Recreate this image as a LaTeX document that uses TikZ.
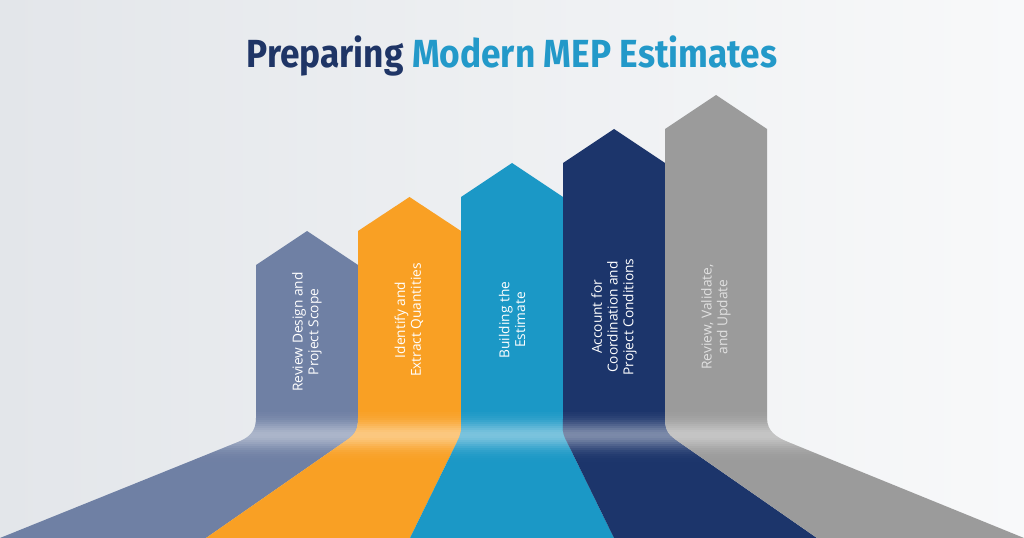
\documentclass[tikz,border=0pt]{standalone}
\usepackage{fontspec}
\setmainfont{Open Sans}
\newfontfamily\titlefont[FakeStretch=0.9]{Fira Sans}
\usetikzlibrary{calc,positioning}
\definecolor{bgleft}{HTML}{E3E6EA}
\definecolor{bgright}{HTML}{F8F9FA}
\definecolor{titledark}{HTML}{1F3566}
\definecolor{titlelight}{HTML}{2399C9}
\definecolor{stepslate}{HTML}{6F80A4}
\definecolor{steporange}{HTML}{F9A024}
\definecolor{stepblue}{HTML}{1B98C6}
\definecolor{stepnavy}{HTML}{1C356B}
\definecolor{stepgray}{HTML}{9B9B9B}
\tikzstyle{steplabel} = [rotate=90, text=white, align=center, inner sep=0pt,
font=\fontsize{10.3}{11.8}\selectfont]
\tikzstyle{glow} = [path picture={\foreach \k in {0,...,24}{
\pgfmathsetmacro\op{0.42*exp(-(\k-11)*(\k-11)/42)}
\fill[white, opacity=\op] (0,{412+2*\k}) rectangle (1024,{414.4+2*\k});}}]

\begin{document}
\begin{tikzpicture}[x=0.75pt,y=-0.75pt]
\fill[left color=bgleft, right color=bgright] (0,0) rectangle (1024,538);
\useasboundingbox (0,0) rectangle (1024,538);

\node (title) at (512,56) {\titlefont\bfseries\fontsize{29.4}{32}\selectfont
\textcolor{titledark}{Preparing} \textcolor{titlelight}{Modern MEP Estimates}};

% edges of the steps: top of bend, end of bend, foot
\foreach \n/\x/\c/\b in {0/256/238/0, 1/358/344/206, 2/461/457/410,
3/563/567/614, 4/665/679/817, 5/767/788/1024}{
\coordinate (t\n) at (\x,418);
\coordinate (c\n) at (\c,442);
\coordinate (b\n) at (\b,538);
}

\foreach \i/\j/\xl/\xr/\s/\col in {1/0/256/358/265/stepslate, 2/1/358/461/231/steporange,
3/2/461/563/197/stepblue, 4/3/563/665/163/stepnavy, 5/4/665/767/129/stepgray}{
\fill[\col, glow]
(b\j) -- (c\j) .. controls ($(c\j)!-9pt!(b\j)$) and (\xl,432) .. (t\j)
-- (\xl,\s) -- ({(\xl+\xr)/2},\s-34) -- (\xr,\s) -- (t\i)
.. controls (\xr,432) and ($(c\i)!-9pt!(b\i)$) .. (c\i) -- (b\i) -- cycle;
}

\node[steplabel] (s1) at (307,332) {Review Design and\\Project Scope};
\node[steplabel] (s2) at (409,320) {Identify and\\Extract Quantities};
\node[steplabel] (s3) at (512,320) {Building the\\Estimate};
\node[steplabel] (s4) at (614,317) {Account for\\Coordination and\\Project Conditions};
\node[steplabel, text=white!88!black] (s5) at (716,317) {Review, Validate,\\and Update};
\end{tikzpicture}
\end{document}
